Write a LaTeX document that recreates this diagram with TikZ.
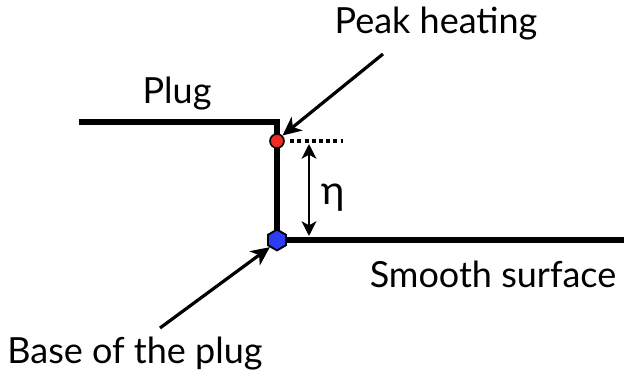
\documentclass[tikz,border=0pt]{standalone}
\usepackage{fontspec}
\setmainfont{Lato}
\usetikzlibrary{positioning,arrows.meta,shapes.geometric}
\definecolor{peakred}{HTML}{F02A24}
\definecolor{baseblue}{HTML}{2D3CF5}
\tikzset{
  wall/.style={line width=4pt, line join=miter},
  pointer/.style={-{Stealth[length=14pt,width=13pt,inset=4pt]}, line width=2.4pt},
  gap/.style={{Stealth[length=11pt,width=11pt,inset=3pt]}-{Stealth[length=11pt,width=11pt,inset=3pt]}, line width=2pt},
  peakdot/.style={circle, draw, line width=1.2pt, fill=peakred, inner sep=0pt, minimum size=10.5pt},
  basedot/.style={regular polygon, regular polygon sides=6, shape border rotate=30, draw, line width=1.3pt, fill=baseblue, inner sep=0pt, minimum size=15.5pt},
  lbl/.style={font=\fontsize{27}{32}\selectfont, anchor=base, inner sep=0pt}
}
\begin{document}
\begin{tikzpicture}[x=0.75pt, y=-0.75pt]
  \useasboundingbox (0,0) rectangle (629,375);
  % geometry of the step
  \coordinate (plugL) at (79,122);
  \coordinate (corner) at (277,122);
  \coordinate (surfR) at (624,240);
  \node[basedot] (base) at (277,240) {};
  \draw[wall] (plugL) -- (corner) -- (base.center);
  \draw[wall] (base.center) -- (surfR);
  \node[basedot] at (277,240) {};
  \node[peakdot] (peak) at (277,141) {};
  \coordinate (dotend) at (343,141);
  \draw[line width=2.4pt, dash pattern=on 3pt off 2.4pt] (peak.east) ++(4pt,0) -- (dotend);
  % height of the plug
  \coordinate (gaptop) at (309,144);
  \coordinate (gapbot) at (309,236);
  \draw[gap] (gaptop) -- (gapbot);
  \node[lbl, font=\fontsize{30}{34}\selectfont] (eta) at (333,204) {η};
  % labels and pointers
  \node[lbl] (peaklbl) at (436,33) {Peak heating};
  \node[lbl] (pluglbl) at (177,103) {Plug};
  \node[lbl] (smoothlbl) at (493,287) {Smooth surface};
  \node[lbl] (baselbl) at (135,363) {Base of the plug};
  \coordinate (peaktail) at (383,54);
  \coordinate (basetail) at (160,328);
  \draw[pointer] (peaktail) -- (peak.north east);
  \draw[pointer] (basetail) -- (base.south west);
\end{tikzpicture}
\end{document}
